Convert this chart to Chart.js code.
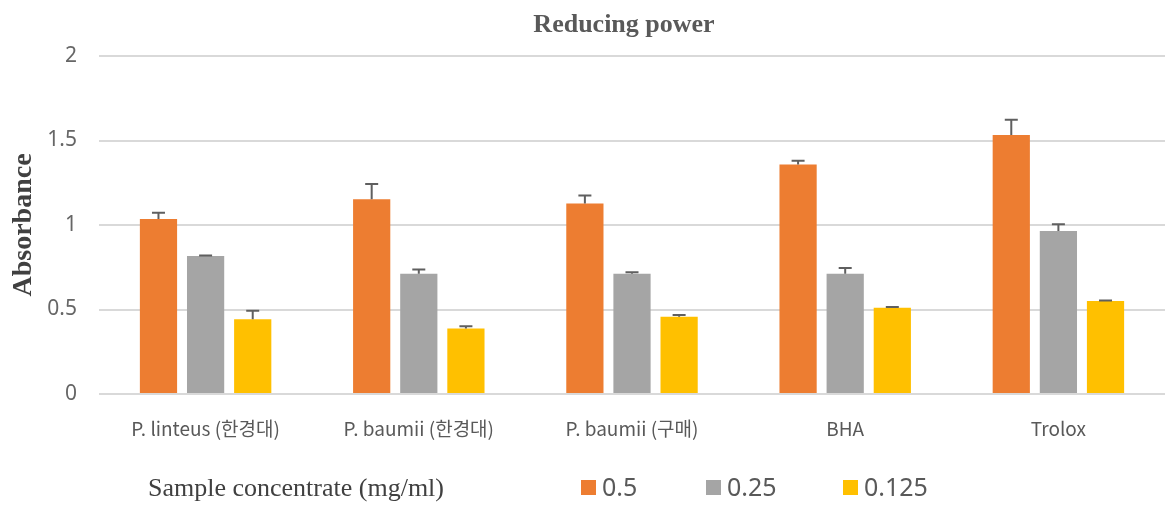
<!DOCTYPE html>
<html>
<head>
<meta charset="utf-8">
<script src="https://cdn.jsdelivr.net/npm/chart.js@4.4.1/dist/chart.umd.min.js"></script>
<style>
  html, body { margin: 0; padding: 0; background: #ffffff; }
  #wrap { position: relative; width: 1165px; height: 505px; }
</style>
</head>
<body>
<div id="wrap"><canvas id="chart"></canvas></div>
<script>
// Samples on the x axis
const categories = ['P. linteus (한경대)', 'P. baumii (한경대)', 'P. baumii (구매)', 'BHA', 'Trolox'];

// Concentrations (legend labels)
const seriesLabels = ['0.5', '0.25', '0.125'];

// Absorbance means per concentration
const values05 = [1.035, 1.153, 1.127, 1.358, 1.533];
const values025 = [0.816, 0.711, 0.711, 0.711, 0.965];
const values0125 = [0.443, 0.388, 0.457, 0.510, 0.550];

// Standard deviations (upper error bars)
const errors05 = [0.037, 0.090, 0.048, 0.022, 0.090];
const errors025 = [0.003, 0.026, 0.010, 0.035, 0.040];
const errors0125 = [0.050, 0.013, 0.010, 0.005, 0.003];

// Y axis tick values
const yTicks = [0, 0.5, 1, 1.5, 2];

const chartTitle = 'Reducing power';
const yTitle = 'Absorbance';
const legendTitle = 'Sample concentrate (mg/ml)';

const colors = ['#ED7D31', '#A5A5A5', '#FFC000'];
const seriesValues = [values05, values025, values0125];
const seriesErrors = [errors05, errors025, errors0125];

const datasets = seriesLabels.map((label, i) => ({
  label: label,
  data: seriesValues[i],
  errors: seriesErrors[i],
  backgroundColor: colors[i],
  borderWidth: 0,
  categoryPercentage: 0.663,
  barPercentage: 0.79
}));

// Upper error bars drawn from each bar's own value + error
const errorBarPlugin = {
  id: 'errorBars',
  afterDatasetsDraw(chart) {
    const ctx = chart.ctx;
    const yScale = chart.scales.y;
    ctx.save();
    ctx.strokeStyle = '#5f5f5f';
    ctx.lineWidth = 2;
    chart.data.datasets.forEach((ds, di) => {
      const meta = chart.getDatasetMeta(di);
      meta.data.forEach((bar, i) => {
        const err = ds.errors[i];
        const yTop = yScale.getPixelForValue(ds.data[i] + err);
        const yVal = bar.y;
        ctx.beginPath();
        ctx.moveTo(bar.x, yVal);
        ctx.lineTo(bar.x, yTop);
        ctx.moveTo(bar.x - 6.5, yTop);
        ctx.lineTo(bar.x + 6.5, yTop);
        ctx.stroke();
      });
    });
    ctx.restore();
  }
};

// Chart heading and the bottom legend row
const decorPlugin = {
  id: 'decor',
  afterDraw(chart) {
    const ctx = chart.ctx;
    const area = chart.chartArea;
    ctx.save();
    ctx.fillStyle = '#595959';
    ctx.textAlign = 'center';
    ctx.textBaseline = 'alphabetic';
    ctx.font = 'bold 26px "Liberation Serif"';
    ctx.fillText(chartTitle, (area.left + area.right) / 2 - 8, 32);

    ctx.textAlign = 'left';
    ctx.fillStyle = '#404040';
    ctx.font = '26px "Liberation Serif"';
    ctx.fillText(legendTitle, 148, 496);

    const itemX = [581, 706, 843];
    ctx.font = '25px "Noto Sans"';
    chart.data.datasets.forEach((ds, i) => {
      ctx.fillStyle = ds.backgroundColor;
      ctx.fillRect(itemX[i], 480, 15, 15);
      ctx.fillStyle = '#595959';
      ctx.fillText(ds.label, itemX[i] + 21, 496);
    });
    ctx.restore();
  }
};

new Chart(document.getElementById('chart'), {
  type: 'bar',
  data: { labels: categories, datasets: datasets },
  plugins: [errorBarPlugin, decorPlugin],
  options: {
    responsive: true,
    maintainAspectRatio: false,
    animation: false,
    layout: { padding: { top: 56, right: 0, bottom: 0, left: 0 } },
    plugins: {
      legend: { display: false },
      title: { display: false },
      tooltip: { enabled: false }
    },
    scales: {
      x: {
        grid: { display: false },
        border: { display: false },
        ticks: {
          color: '#595959',
          font: { family: '"Noto Sans CJK KR"', size: 19 },
          padding: 15,
          maxRotation: 0
        },
        afterFit(scale) { scale.height = 111; }
      },
      y: {
        min: 0,
        max: 2,
        afterBuildTicks(scale) { scale.ticks = yTicks.map(v => ({ value: v })); },
        grid: { color: '#d9d9d9', lineWidth: 2, drawTicks: false },
        border: { display: false },
        ticks: {
          color: '#666666',
          font: { family: '"Noto Sans"', size: 21 },
          padding: 22,
          callback: v => String(v)
        },
        title: {
          display: true,
          text: yTitle,
          color: '#404040',
          font: { family: '"Liberation Serif"', size: 28, weight: 'bold' },
          padding: { top: 7, bottom: 0 }
        },
        afterFit(scale) { scale.width = 99; }
      }
    }
  }
});
</script>
</body>
</html>
